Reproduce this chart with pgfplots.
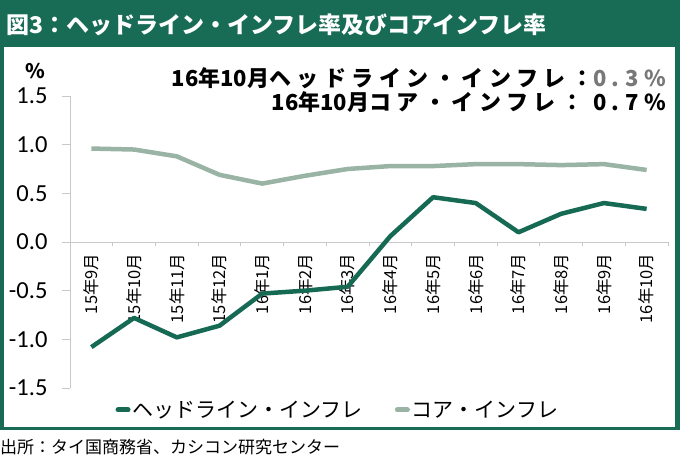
\documentclass[border=0pt]{standalone}
\usepackage{fontspec}
\usepackage{pgfplots}
\pgfplotsset{compat=1.18}
\setmainfont{Noto Sans CJK JP}
\newfontfamily\cjk{Noto Sans CJK JP}
\newfontfamily\cjkls{Noto Sans CJK JP}[LetterSpace=25]
\newfontfamily\carlito{Carlito}
\definecolor{framegreen}{RGB}{24,108,86}
\definecolor{headgreen}{RGB}{22,106,84}
\definecolor{coregreen}{RGB}{153,179,165}
\definecolor{axisgray}{RGB}{200,200,200}
\definecolor{valgray}{RGB}{120,120,120}
\begin{document}
\begin{tikzpicture}
\useasboundingbox (0pt,0pt) rectangle (680pt,457pt);
\fill[framegreen] (0pt,27pt) rectangle (680pt,457pt);
\fill[white] (4pt,30pt) rectangle (675pt,410pt);
\node[anchor=west,text=white,inner sep=0pt,font=\cjk\bfseries\fontsize{23}{26}\selectfont] at (6pt,432pt) {図3：ヘッドライン・インフレ率及びコアインフレ率};
\node[anchor=west,inner sep=0pt,font=\cjk\fontsize{17}{20}\selectfont] at (0pt,10pt) {出所：タイ国商務省、カシコン研究センター};
\node[inner sep=0pt,font=\cjk\bfseries\fontsize{20}{24}\selectfont] at (35pt,386pt) {\%};
\node[anchor=east,inner sep=0pt,font=\cjk\bfseries\fontsize{22}{26}\selectfont] at (666pt,379pt) {16年10月{\cjkls\bfseries ヘッドライン・インフレ：\textcolor{valgray}{0.3\%}}};
\node[anchor=east,inner sep=0pt,font=\cjk\bfseries\fontsize{22}{26}\selectfont] at (666pt,355pt) {16年10月{\cjkls\bfseries コア・インフレ：\hspace{10pt}0.7\%}};
\begin{axis}[
  at={(70pt,69pt)}, anchor=south west,
  width=598pt, height=292pt, scale only axis,
  xmin=-0.5, xmax=13.5, ymin=-1.5, ymax=1.5,
  axis x line=middle, axis y line=left,
  axis line style={-, draw=axisgray, line width=0.8pt},
  xtick={0,...,13},
  xticklabels={15年9月,15年10月,15年11月,15年12月,16年1月,16年2月,16年3月,16年4月,16年5月,16年6月,16年7月,16年8月,16年9月,16年10月},
  minor xtick={-0.5,0.5,...,13.5},
  major x tick style={draw=none},
  minor x tick style={draw=axisgray, line width=0.8pt},
  minor tick length=4pt,
  major tick length=8pt,
  tick align=outside,
  ytick={-1.5,-1,-0.5,0,0.5,1,1.5},
  ytick style={draw=axisgray, line width=0.8pt},
  hide obscured x ticks=false,
  hide obscured y ticks=false,
  /pgf/number format/assume math mode=true,
  yticklabel style={font=\carlito\fontsize{24.5}{28}\selectfont, anchor=east, xshift=-11pt,
    /pgf/number format/fixed, /pgf/number format/fixed zerofill, /pgf/number format/precision=1},
  xticklabel style={font=\cjk\fontsize{16.5}{19}\selectfont, rotate=90, anchor=east},
  clip=false,
  legend style={at={(0.448,-0.075)}, anchor=center, draw=none, fill=none, legend columns=2,
    font=\cjk\fontsize{21}{24}\selectfont, inner sep=0pt,
    /tikz/every even column/.append style={column sep=30pt}},
  legend image code/.code={\draw[line width=5pt, line cap=round, #1] (0pt,0pt) -- (10pt,0pt);},
]
\addplot[headgreen, line width=4.5pt, line join=round] coordinates {(0,-1.08)(1,-0.78)(2,-0.98)(3,-0.86)(4,-0.53)(5,-0.50)(6,-0.46)(7,0.06)(8,0.46)(9,0.40)(10,0.10)(11,0.29)(12,0.40)(13,0.34)};
\addlegendentry{ヘッドライン・インフレ}
\addplot[coregreen, line width=4.5pt, line join=round] coordinates {(0,0.96)(1,0.95)(2,0.88)(3,0.69)(4,0.60)(5,0.68)(6,0.75)(7,0.78)(8,0.78)(9,0.80)(10,0.80)(11,0.79)(12,0.80)(13,0.74)};
\addlegendentry{コア・インフレ}
\end{axis}
\end{tikzpicture}
\end{document}
